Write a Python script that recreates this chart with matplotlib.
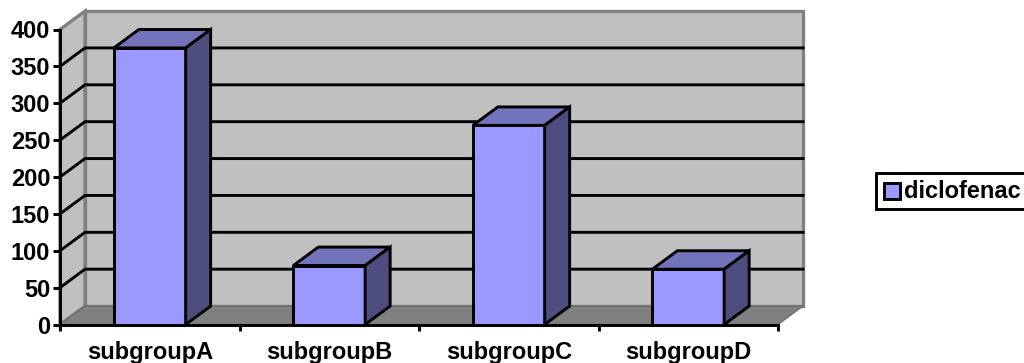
# -*- coding: utf-8 -*-
"""
Barras con aspecto 3D: diclofenac por subgrupo
"""
import matplotlib
matplotlib.use('Agg')
import matplotlib.pyplot as plt
from matplotlib.patches import Polygon, Rectangle

categories = ['subgroupA', 'subgroupB', 'subgroupC', 'subgroupD']
values = [375, 80, 270, 75]
y_ticks = [0, 50, 100, 150, 200, 250, 300, 350, 400]
series_name = 'diclofenac'

W, H = 1024, 363
DX = 25 / 179.5    # profundidad en unidades de categoría
DY = 25            # profundidad en unidades del eje Y
BAR_W = 0.4
LW = 2.1
GRAY = '#808080'
WALL = '#C0C0C0'
FONT = {'family': 'Liberation Sans', 'weight': 'bold', 'size': 17}

fig = plt.figure(figsize=(W / 100, H / 100), dpi=100, facecolor='white')
ax = fig.add_axes([60 / W, (H - 324.5) / H, 718 / W, 295 / H])
ax.set_xlim(0, len(categories))
ax.set_ylim(0, 400)
ax.patch.set_visible(False)
n = len(categories)

# paredes y suelo
back = Polygon([(DX, DY), (n + DX, DY), (n + DX, 400 + DY), (DX, 400 + DY)],
               fc=WALL, ec=GRAY, lw=2.4, zorder=0.5, clip_on=False)
side = Polygon([(0, 0), (DX, DY), (DX, 400 + DY), (0, 400)],
               fc=WALL, ec=GRAY, lw=2.4, zorder=0.5, clip_on=False)
floor = Polygon([(0, 0), (n, 0), (n + DX, DY), (DX, DY)],
                fc=GRAY, ec='#6E6E6E', lw=1.0, zorder=0.6, clip_on=False)
for p in (back, side, floor):
    ax.add_patch(p)

# rejilla sobre la pared lateral y la del fondo
for v in y_ticks[1:-1]:
    ax.plot([0, DX, n + DX], [v, v + DY, v + DY], color='black', lw=LW,
            zorder=0.8, clip_on=False, solid_joinstyle='miter')

# barras: cara frontal, tapa y lateral
xs = [i + 0.5 for i in range(n)]
ax.bar(xs, values, width=BAR_W, color='#9999FF', edgecolor='black', lw=LW,
       zorder=3, clip_on=False)
for x, v in zip(xs, values):
    x0, x1 = x - BAR_W / 2, x + BAR_W / 2
    ax.add_patch(Polygon([(x0, v), (x1, v), (x1 + DX, v + DY), (x0 + DX, v + DY)],
                         fc='#7373BC', ec='black', lw=LW, zorder=3,
                         clip_on=False))
    ax.add_patch(Polygon([(x1, 0), (x1 + DX, DY), (x1 + DX, v + DY), (x1, v)],
                         fc='#4D4D80', ec='black', lw=LW, zorder=3,
                         clip_on=False))

ax.spines['top'].set_visible(False)
ax.spines['right'].set_visible(False)
ax.spines['left'].set_linewidth(LW)
ax.spines['bottom'].set_linewidth(LW)

ax.set_yticks(y_ticks)
ax.set_yticklabels([str(v) for v in y_ticks], **FONT)
ax.tick_params(axis='y', length=5, width=LW, pad=2)
ax.set_xticks(range(n + 1))
ax.set_xticklabels([])
ax.tick_params(axis='x', length=4, width=LW)
ax.set_xticks(xs, minor=True)
ax.set_xticklabels(categories, minor=True, **FONT)
ax.tick_params(axis='x', which='minor', length=0, pad=12)

# leyenda; la caja llega hasta el borde derecho
fig.add_artist(Rectangle((875.5 / W, (H - 208.5) / H), 160 / W, 36 / H,
                         fc='white', ec='black', lw=LW,
                         transform=fig.transFigure))
fig.add_artist(Rectangle((884 / W, (H - 198.5) / H), 15.5 / W, 16 / H,
                         fc='#9999FF', ec='black', lw=LW,
                         transform=fig.transFigure))
fig.text(904 / W, (H - 191) / H, series_name, va='center', ha='left', **FONT)

fig.savefig('out.png', dpi=100, facecolor='white')
plt.close('all')
